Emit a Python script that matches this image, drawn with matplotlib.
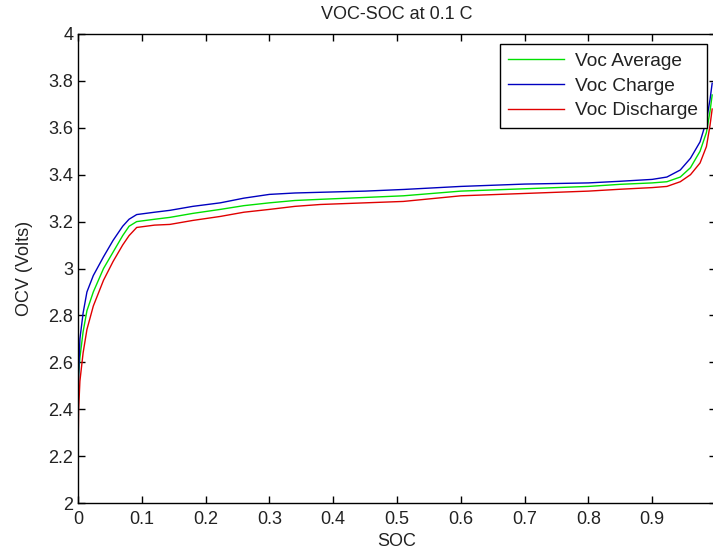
import matplotlib
matplotlib.use("Agg")
import matplotlib.pyplot as plt

# SOC sample points
soc = [0, 0.001, 0.003, 0.008, 0.014, 0.024, 0.04, 0.055, 0.07, 0.08, 0.092,
       0.12, 0.144, 0.18, 0.223, 0.26, 0.30, 0.34, 0.38, 0.45, 0.51, 0.6,
       0.7, 0.8, 0.85, 0.9, 0.923, 0.944, 0.96, 0.975, 0.985, 0.9906, 0.994]

voc_charge = [2.34, 2.55, 2.70, 2.81, 2.90, 2.97, 3.05, 3.12, 3.18, 3.21, 3.23,
              3.24, 3.248, 3.265, 3.28, 3.30, 3.316, 3.322, 3.325, 3.33, 3.337, 3.35,
              3.36, 3.365, 3.372, 3.38, 3.39, 3.42, 3.47, 3.54, 3.63, 3.72, 3.79]

voc_average = [2.48, 2.55, 2.62, 2.73, 2.82, 2.90, 3.00, 3.07, 3.14, 3.18, 3.20,
               3.21, 3.218, 3.235, 3.252, 3.268, 3.28, 3.29, 3.295, 3.303, 3.31, 3.33,
               3.34, 3.35, 3.359, 3.365, 3.37, 3.39, 3.43, 3.50, 3.58, 3.67, 3.74]

voc_discharge = [2.20, 2.40, 2.52, 2.64, 2.74, 2.84, 2.95, 3.03, 3.10, 3.14, 3.175,
                 3.185, 3.188, 3.205, 3.222, 3.24, 3.252, 3.265, 3.273, 3.28, 3.286, 3.31,
                 3.32, 3.33, 3.338, 3.345, 3.35, 3.37, 3.40, 3.45, 3.52, 3.61, 3.68]

x_ticks = [0, 0.1, 0.2, 0.3, 0.4, 0.5, 0.6, 0.7, 0.8, 0.9]
x_tick_labels = ['0', '0.1', '0.2', '0.3', '0.4', '0.5', '0.6', '0.7', '0.8', '0.9']
y_ticks = [2, 2.2, 2.4, 2.6, 2.8, 3, 3.2, 3.4, 3.6, 3.8, 4]
y_tick_labels = ['2', '2.2', '2.4', '2.6', '2.8', '3', '3.2', '3.4', '3.6', '3.8', '4']

plt.rcParams['font.family'] = ['Liberation Sans', 'DejaVu Sans']
plt.rcParams['font.size'] = 13

fig = plt.figure(figsize=(7.13, 5.54), dpi=100)
ax = fig.add_axes([78 / 713, 51 / 554, 638 / 713, 469 / 554])

# same plotting order as the legend
ax.plot(soc, voc_average, color='#00e000', lw=1, label='Voc Average')
ax.plot(soc, voc_charge, color='#0000c0', lw=1, label='Voc Charge')
ax.plot(soc, voc_discharge, color='#e00000', lw=1, label='Voc Discharge')

ax.set_xlim(0, 1)
ax.set_ylim(2, 4)
ax.set_xticks(x_ticks)
ax.set_xticklabels(x_tick_labels)
ax.set_yticks(y_ticks)
ax.set_yticklabels(y_tick_labels)
ax.tick_params(direction='in', length=5, width=1, top=True, right=True,
               colors='black', labelcolor='#222222', labelsize=13)
ax.tick_params(axis='x', pad=6)
for s in ax.spines.values():
    s.set_linewidth(1)
    s.set_color('black')

ax.set_title('VOC-SOC at 0.1 C', fontsize=13, color='#222222', pad=11)
ax.set_xlabel('SOC', fontsize=13, color='#222222', labelpad=3)
ax.set_ylabel('OCV (Volts)', fontsize=13, color='#222222', labelpad=11)

leg = ax.legend(loc='upper right', bbox_to_anchor=((707 - 78) / 638, (503 - 44) / 469),
                fancybox=False, framealpha=1, edgecolor='black', handlelength=2.9,
                fontsize=13.8, labelspacing=0.38, borderpad=0.45, handletextpad=0.6,
                borderaxespad=0)
leg.get_frame().set_linewidth(1)
for t in leg.get_texts():
    t.set_color('#222222')

fig.savefig('out.png', dpi=100)
